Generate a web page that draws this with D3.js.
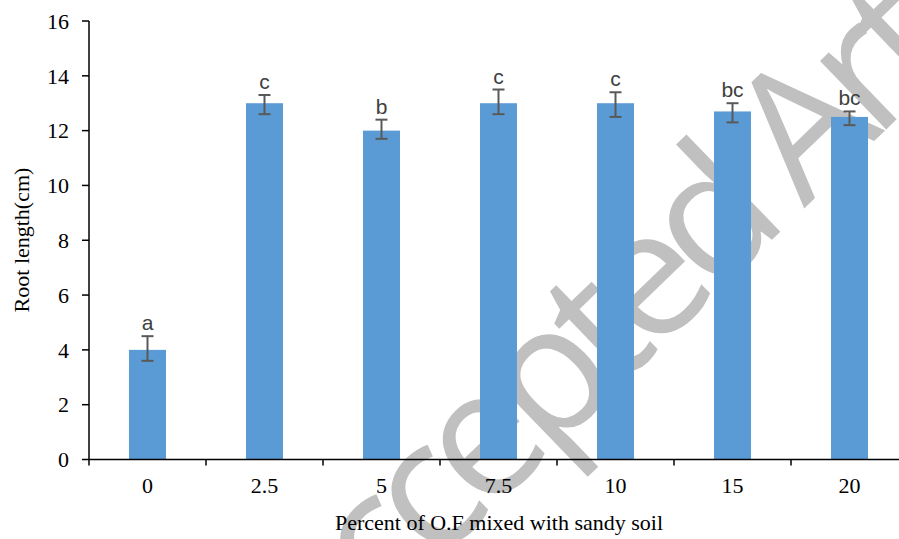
<!DOCTYPE html>
<html>
<head>
<meta charset="utf-8">
<script src="https://cdnjs.cloudflare.com/ajax/libs/d3/7.8.5/d3.min.js"></script>
<style>
  body { margin: 0; background: #fff; }
  svg { display: block; }
</style>
</head>
<body>
<div id="chart"></div>
<script>
// data
const categories = ["0", "2.5", "5", "7.5", "10", "15", "20"];
const rootLength = [4.0, 13.0, 12.0, 13.0, 13.0, 12.7, 12.5];
const errLow = [3.6, 12.6, 11.7, 12.6, 12.5, 12.3, 12.2];
const errHigh = [4.5, 13.3, 12.4, 13.5, 13.4, 13.0, 12.7];
const groupLetters = ["a", "c", "b", "c", "c", "bc", "bc"];
const yTicks = [0, 2, 4, 6, 8, 10, 12, 14, 16];

const width = 899, height = 539;
const margin = { left: 89, top: 21, bottom: 80 };

const svg = d3.select("#chart")
  .append("svg")
    .attr("width", width)
    .attr("height", height);

// watermark, sits behind everything
svg.append("text")
  .attr("transform", "translate(312,684) rotate(-44)")
  .attr("font-family", "'Open Sans', sans-serif")
  .attr("font-size", 178)
  .attr("letter-spacing", -14)
  .attr("fill", "#c0c0c0")
  .text("Accepted Article");

const x = d3.scaleBand()
  .domain(categories)
  .range([margin.left, margin.left + 7 * 117])
  .paddingInner(0.684)
  .paddingOuter(0.342);

const y = d3.scaleLinear()
  .domain([0, 16])
  .range([height - margin.bottom + 0.5, margin.top]);

const data = categories.map((c, i) => ({
  cat: c, value: rootLength[i], lo: errLow[i], hi: errHigh[i], letter: groupLetters[i]
}));

// bars
svg.selectAll(".bar")
  .data(data)
  .join("rect")
    .attr("class", "bar")
    .attr("x", d => x(d.cat))
    .attr("y", d => y(d.value))
    .attr("width", x.bandwidth())
    .attr("height", d => y(0) - y(d.value))
    .attr("fill", "#5b9bd5");

// error bars
const err = svg.selectAll(".err")
  .data(data)
  .join("g")
    .attr("class", "err")
    .attr("stroke", "#595959")
    .attr("stroke-width", 2);

const cx = d => x(d.cat) + x.bandwidth() / 2;
err.append("line")
  .attr("x1", cx).attr("x2", cx)
  .attr("y1", d => y(d.lo)).attr("y2", d => y(d.hi));
err.append("line")
  .attr("x1", d => cx(d) - 6).attr("x2", d => cx(d) + 6)
  .attr("y1", d => y(d.hi)).attr("y2", d => y(d.hi));
err.append("line")
  .attr("x1", d => cx(d) - 6).attr("x2", d => cx(d) + 6)
  .attr("y1", d => y(d.lo)).attr("y2", d => y(d.lo));

// significance letters
svg.selectAll(".letter")
  .data(data)
  .join("text")
    .attr("class", "letter")
    .attr("x", cx)
    .attr("y", d => y(d.hi) - 6)
    .attr("text-anchor", "middle")
    .attr("font-family", "'Liberation Sans', Arial, sans-serif")
    .attr("font-size", 21)
    .attr("fill", "#404040")
    .text(d => d.letter);

// y axis
svg.append("line")
  .attr("x1", margin.left).attr("x2", margin.left)
  .attr("y1", y(16)).attr("y2", y(0))
  .attr("stroke", "#000").attr("stroke-width", 1.5);

svg.selectAll(".ytick")
  .data(yTicks)
  .join("line")
    .attr("x1", margin.left - 7).attr("x2", margin.left)
    .attr("y1", d => y(d)).attr("y2", d => y(d))
    .attr("stroke", "#000").attr("stroke-width", 1.5);

svg.selectAll(".ylab")
  .data(yTicks)
  .join("text")
    .attr("x", 69)
    .attr("y", d => y(d))
    .attr("dy", "0.35em")
    .attr("text-anchor", "end")
    .attr("font-family", "'Liberation Serif', 'Times New Roman', serif")
    .attr("font-size", 22)
    .attr("fill", "#000")
    .text(d => d);

// x axis
svg.append("line")
  .attr("x1", margin.left).attr("x2", width)
  .attr("y1", y(0)).attr("y2", y(0))
  .attr("stroke", "#000").attr("stroke-width", 1.5);

const edges = categories.map(c => x(c) + x.bandwidth() / 2 - x.step() / 2);
svg.selectAll(".xtick")
  .data(edges)
  .join("line")
    .attr("x1", d => d).attr("x2", d => d)
    .attr("y1", y(0)).attr("y2", y(0) + 6)
    .attr("stroke", "#000").attr("stroke-width", 1.5);

svg.selectAll(".xlab")
  .data(categories)
  .join("text")
    .attr("x", d => x(d) + x.bandwidth() / 2)
    .attr("y", 493)
    .attr("text-anchor", "middle")
    .attr("font-family", "'Liberation Serif', 'Times New Roman', serif")
    .attr("font-size", 22)
    .attr("fill", "#000")
    .text(d => d);

// axis titles
svg.append("text")
  .attr("x", 499)
  .attr("y", 530)
  .attr("text-anchor", "middle")
  .attr("font-family", "'Liberation Serif', 'Times New Roman', serif")
  .attr("font-size", 22)
  .text("Percent of O.F mixed with sandy soil");

svg.append("text")
  .attr("transform", "translate(29,240) rotate(-90)")
  .attr("text-anchor", "middle")
  .attr("font-family", "'Liberation Serif', 'Times New Roman', serif")
  .attr("font-size", 22)
  .text("Root length(cm)");
</script>
</body>
</html>
